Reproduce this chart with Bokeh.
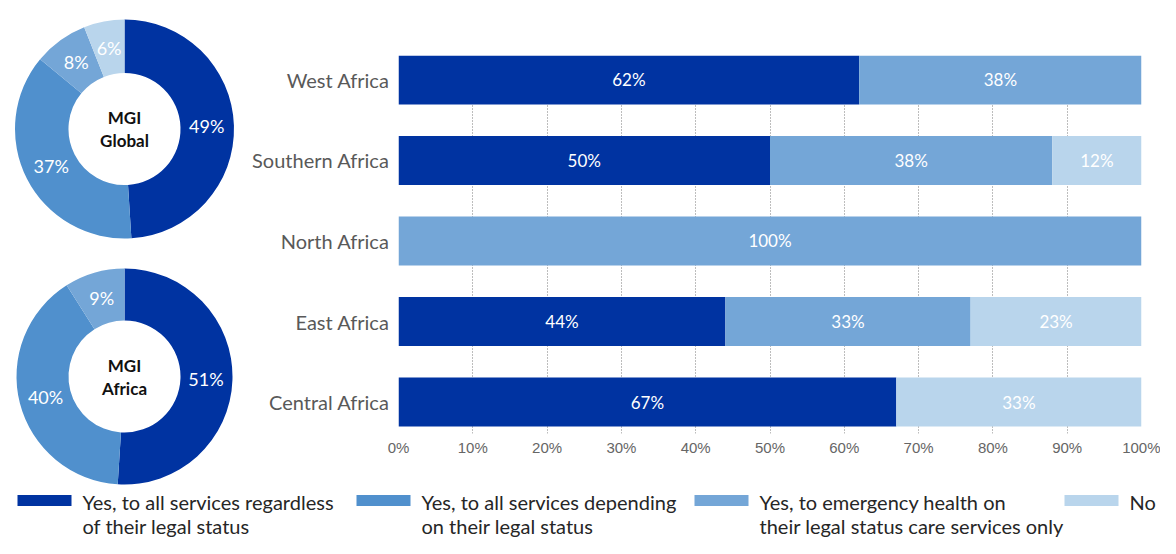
import math
from bokeh.plotting import figure
from bokeh.models import Range1d, FixedTicker
from bokeh.layouts import row, column
from bokeh.core.properties import value
from bokeh.embed import file_html
from bokeh.resources import INLINE

# ---------------- data ----------------
regions = ["West Africa", "Southern Africa", "North Africa", "East Africa", "Central Africa"]
categories = [
    "Yes, to all services regardless\nof their legal status",
    "Yes, to all services depending\non their legal status",
    "Yes, to emergency health on\ntheir legal status care services only",
    "No",
]
regardless = [62, 50, 0, 44, 67]
depending = [0, 0, 0, 0, 0]
emergency = [38, 38, 100, 33, 0]
no_access = [0, 12, 0, 23, 33]

global_shares = [49, 37, 8, 6]
africa_shares = [51, 40, 9, 0]
donut_titles = ["MGI\nGlobal", "MGI\nAfrica"]

x_ticks = list(range(0, 101, 10))

colors = ["#0033a1", "#5090cd", "#74a6d7", "#b9d5ec"]
FONT = "Lato"


def base_fig(w, h, **kw):
    f = figure(width=w, height=h, output_backend="svg", toolbar_location=None,
               outline_line_color=None, background_fill_color="white",
               border_fill_color="white", **kw)
    return f


# ---------------- donuts ----------------
DW = 242


def donut(shares, title, h, cx, cy, r_out, r_in):
    f = base_fig(DW, h, x_range=Range1d(0, DW), y_range=Range1d(0, h),
                 min_border=0)
    f.axis.visible = False
    f.grid.visible = False
    total = float(sum(shares))
    cum = 0.0
    lx, ly, lt = [], [], []
    for v, c in zip(shares, colors):
        if v <= 0:
            continue
        a0 = math.pi / 2 - 2 * math.pi * cum / total
        a1 = math.pi / 2 - 2 * math.pi * (cum + v) / total
        f.annular_wedge(x=cx, y=cy, inner_radius=r_in, outer_radius=r_out,
                        start_angle=a0, end_angle=a1, direction="clock",
                        fill_color=c, line_color=None)
        mid = math.pi / 2 - 2 * math.pi * (cum + v / 2) / total
        rl = (r_in + r_out) / 2 - 0.5
        lx.append(cx + rl * math.cos(mid))
        ly.append(cy + rl * math.sin(mid))
        lt.append(f"{v}%")
        cum += v
    f.text(x=lx, y=ly, text=lt, text_color="white", text_font=value(FONT),
           text_font_size="18px", text_align="center", text_baseline="middle")
    lines = title.split("\n")
    for i, ln in enumerate(lines):
        f.text(x=[cx], y=[cy], text=[ln], text_color="#111111", text_font=value(FONT),
               text_font_size="17px", text_font_style="bold", text_align="center",
               text_baseline="middle", y_offset=(i - (len(lines) - 1) / 2) * 23)
    return f


d1 = donut(global_shares, donut_titles[0], 243, 124, 114.5, 109.5, 56)
d2 = donut(africa_shares, donut_titles[1], 243, 124, 110, 108, 56)

# ---------------- stacked bars ----------------
ypos = list(range(len(regions) - 1, -1, -1))
series = [regardless, depending, emergency, no_access]

p = base_fig(1160 - DW, 486, x_range=Range1d(0, 100), y_range=Range1d(-0.391, 4.304),
             min_border_left=156, min_border_right=19, min_border_top=55,
             min_border_bottom=53)

left = [0] * len(regions)
tx, ty, tt = [], [], []
for vals, c in zip(series, colors):
    right = [l + v for l, v in zip(left, vals)]
    p.hbar(y=ypos, left=left, right=right, height=0.609, fill_color=c, line_color=None)
    for l, v, y in zip(left, vals, ypos):
        if v > 0:
            tx.append(l + v / 2)
            ty.append(y)
            tt.append(f"{v}%")
    left = right

p.text(x=tx, y=ty, text=tt, text_color="white", text_font=value(FONT),
       text_font_size="17px", text_align="center", text_baseline="middle")

p.ygrid.visible = False
p.xgrid.ticker = FixedTicker(ticks=x_ticks)
p.xgrid.grid_line_color = "#7a7a7a"
p.xgrid.grid_line_dash = "1 2"
p.xgrid.grid_line_width = 1

p.xaxis.ticker = FixedTicker(ticks=x_ticks)
p.xaxis.major_label_overrides = {t: f"{t}%" for t in x_ticks}
p.xaxis.axis_line_color = None
p.xaxis.major_tick_line_color = None
p.xaxis.minor_tick_line_color = None
p.xaxis.major_tick_out = 0
p.xaxis.major_tick_in = 0
p.xaxis.major_label_standoff = 5
p.xaxis.major_label_text_font = "Liberation Sans"
p.xaxis.major_label_text_font_size = "15px"
p.xaxis.major_label_text_color = "#666666"

p.yaxis.ticker = FixedTicker(ticks=ypos)
p.yaxis.major_label_overrides = {y: r for y, r in zip(ypos, regions)}
p.yaxis.axis_line_color = None
p.yaxis.major_tick_line_color = None
p.yaxis.minor_tick_line_color = None
p.yaxis.major_tick_out = 0
p.yaxis.major_tick_in = 0
p.yaxis.major_label_standoff = 9
p.yaxis.major_label_text_font = FONT
p.yaxis.major_label_text_font_size = "20px"
p.yaxis.major_label_text_color = "#595959"

# ---------------- legend ----------------
leg = base_fig(1160, 52, x_range=Range1d(0, 1160), y_range=Range1d(0, 52), min_border=0)
leg.axis.visible = False
leg.grid.visible = False
box_lefts = [17, 356, 694, 1064]
for bl, c, lab in zip(box_lefts, colors, categories):
    leg.quad(left=bl, right=bl + 54, bottom=32.5, top=43.5, fill_color=c, line_color=None)
    lines = lab.split("\n")
    leg.text(x=[bl + 65] * len(lines), y=[37 - 24 * i for i in range(len(lines))],
             text=lines, text_color="#262626", text_font=value(FONT),
             text_font_size="20px", text_align="left", text_baseline="middle")

layout = column(row(column(d1, d2), p), leg)
open("out.html", "w").write(file_html(layout, INLINE))
